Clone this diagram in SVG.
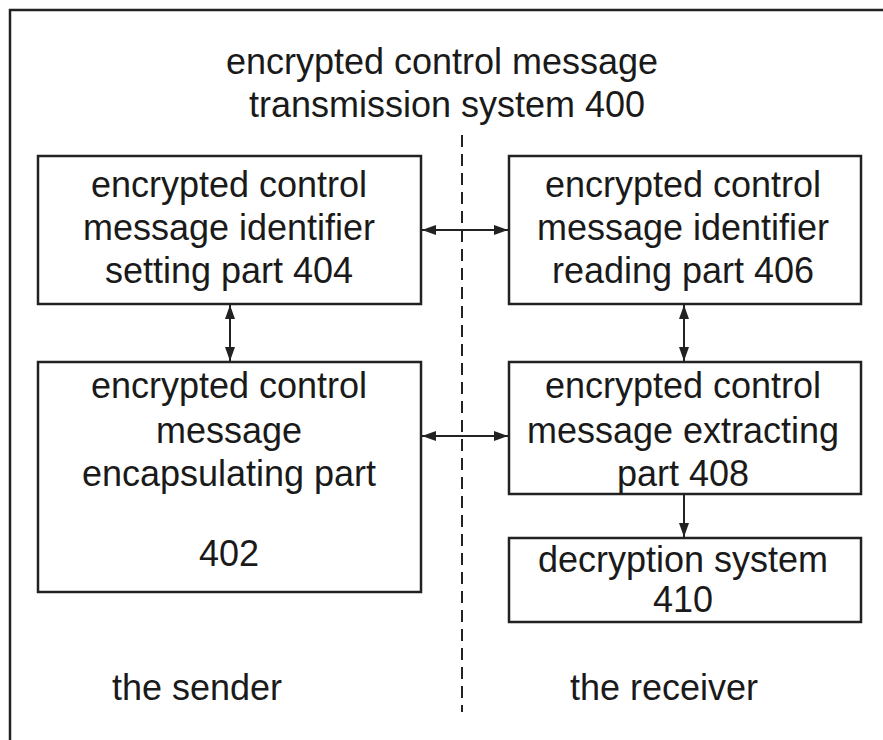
<svg xmlns="http://www.w3.org/2000/svg" width="883" height="740" viewBox="0 0 883 740">
<style>
text{font-family:"Liberation Sans",Arial,sans-serif;font-size:36px;fill:#1a1a1a;text-anchor:middle}
.box{fill:#fff;stroke:#222;stroke-width:2.5}
.conn{stroke:#222;stroke-width:2;fill:none}
</style>
<defs>
<marker id="ah" viewBox="0 0 14 10" refX="14" refY="5" markerWidth="14" markerHeight="10" markerUnits="userSpaceOnUse" orient="auto-start-reverse">
<path d="M0,0 L14,5 L0,10 Z" fill="#222"/>
</marker>
</defs>
<rect x="10" y="10" width="900" height="800" fill="none" stroke="#222" stroke-width="2.5"/>
<g id="title">
<text x="442" y="74">encrypted control message</text>
<text x="447" y="117">transmission system 400</text>
</g>
<line x1="462" y1="135" x2="462" y2="712" stroke="#222" stroke-width="2" stroke-dasharray="12,7"/>
<g id="n404">
<rect class="box" x="38" y="156" width="383" height="148"/>
<text x="229" y="197">encrypted control</text>
<text x="229" y="240">message identifier</text>
<text x="229" y="283">setting part  404</text>
</g>
<g id="n406">
<rect class="box" x="509" y="156" width="352" height="148"/>
<text x="683" y="197">encrypted control</text>
<text x="683" y="240">message identifier</text>
<text x="683" y="283">reading part  406</text>
</g>
<g id="n402">
<rect class="box" x="38" y="362" width="383" height="230"/>
<text x="229" y="398">encrypted control</text>
<text x="229" y="443">message</text>
<text x="229" y="486">encapsulating part</text>
<text x="229" y="566">402</text>
</g>
<g id="n408">
<rect class="box" x="509" y="362" width="352" height="132"/>
<text x="683" y="398">encrypted control</text>
<text x="683" y="443">message extracting</text>
<text x="683" y="486">part 408</text>
</g>
<g id="n410">
<rect class="box" x="509" y="538" width="352" height="84"/>
<text x="683" y="572">decryption system</text>
<text x="683" y="612">410</text>
</g>
<g id="labels">
<text x="197" y="700">the sender</text>
<text x="664" y="700">the receiver</text>
</g>
<g id="connectors">
<line class="conn" x1="422" y1="230" x2="508" y2="230" marker-start="url(#ah)" marker-end="url(#ah)"/>
<line class="conn" x1="422" y1="436" x2="508" y2="436" marker-start="url(#ah)" marker-end="url(#ah)"/>
<line class="conn" x1="230" y1="305" x2="230" y2="361" marker-start="url(#ah)" marker-end="url(#ah)"/>
<line class="conn" x1="684" y1="305" x2="684" y2="361" marker-start="url(#ah)" marker-end="url(#ah)"/>
<line class="conn" x1="684" y1="495" x2="684" y2="537" marker-end="url(#ah)"/>
</g>
</svg>
